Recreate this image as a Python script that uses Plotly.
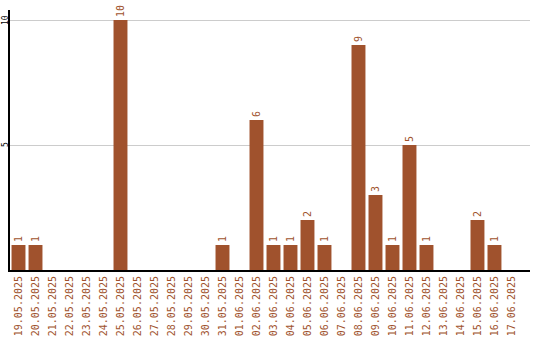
import plotly.graph_objects as go

dates = ["19.05.2025","20.05.2025","21.05.2025","22.05.2025","23.05.2025","24.05.2025",
         "25.05.2025","26.05.2025","27.05.2025","28.05.2025","29.05.2025","30.05.2025",
         "31.05.2025","01.06.2025","02.06.2025","03.06.2025","04.06.2025","05.06.2025",
         "06.06.2025","07.06.2025","08.06.2025","09.06.2025","10.06.2025","11.06.2025",
         "12.06.2025","13.06.2025","14.06.2025","15.06.2025","16.06.2025","17.06.2025"]
values = [1,1,0,0,0,0,10,0,0,0,0,0,1,0,6,1,1,2,1,0,9,3,1,5,1,0,0,2,1,0]
y_ticks = [5, 10]

color = "#A0522D"
labels = [str(v) if v > 0 else "" for v in values]

fig = go.Figure(go.Bar(
    x=list(range(len(dates))), y=values, marker_color=color, marker_line_width=0,
    text=labels, textposition="outside", textangle=-90, cliponaxis=False,
    textfont=dict(family="DejaVu Sans Mono", size=10, color=color),
))
fig.update_layout(
    width=540, height=340, margin=dict(l=10, r=10, t=10, b=70),
    plot_bgcolor="white", paper_bgcolor="white", bargap=0.18, showlegend=False,
    font=dict(family="DejaVu Sans Mono", size=10),
)
fig.update_xaxes(range=[-0.5, 30.09], tickvals=list(range(len(dates))), ticktext=dates,
                 tickangle=-90, tickfont=dict(color=color, size=10, family="DejaVu Sans Mono"),
                 showline=True, linecolor="black", linewidth=2, showgrid=False, ticks="",
                 automargin=False, zeroline=False)
fig.update_yaxes(range=[0, 10.4], tickvals=y_ticks, showticklabels=False,
                 showline=True, linecolor="black", linewidth=2, showgrid=True,
                 gridcolor="#cccccc", ticks="", zeroline=False, automargin=False)
for t in y_ticks:
    fig.add_annotation(x=0, xref="paper", y=t, yref="y", text=str(t), showarrow=False,
                       textangle=-90, xanchor="center", yanchor="middle", xshift=-5,
                       borderpad=0,
                       font=dict(family="DejaVu Sans Mono", size=8, color="black"))
fig.write_html("out.html")
